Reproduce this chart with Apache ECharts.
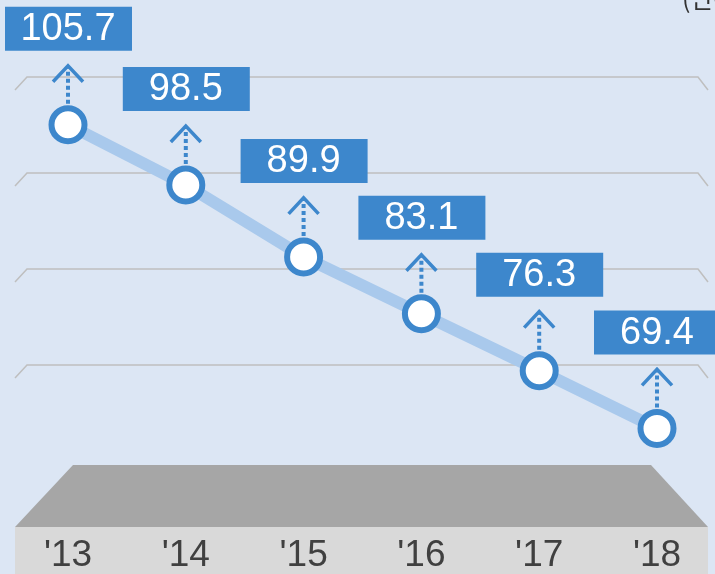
<!DOCTYPE html>
<html>
<head>
<meta charset="utf-8">
<script src="https://cdn.jsdelivr.net/npm/echarts@6/dist/echarts.min.js"></script>
<style>
html,body{margin:0;padding:0;background:#dce6f4;}
#chart{width:715px;height:574px;}
</style>
</head>
<body>
<div id="chart"></div>
<script>
var categories = ["'13", "'14", "'15", "'16", "'17", "'18"];
var values = [105.7, 98.5, 89.9, 83.1, 76.3, 69.4];
var unitText = "(단위: 조원)";

var BLUE = '#3d87cc';
var chart = echarts.init(document.getElementById('chart'));

var gridYs = [77, 173, 269, 365];
var graphics = [];
gridYs.forEach(function (y) {
  graphics.push({
    type: 'polyline', z: 0,
    shape: { points: [[15, y + 13], [27, y], [698, y], [708, y + 13]] },
    style: { stroke: '#bfbfbf', lineWidth: 1.5, fill: null }
  });
});
graphics.push({
  type: 'polygon', z: 0,
  shape: { points: [[73, 465], [651, 465], [708, 527], [15, 527]] },
  style: { fill: '#a6a6a6' }
});
graphics.push({
  type: 'rect', z: 0,
  shape: { x: 15, y: 527, width: 693, height: 60 },
  style: { fill: '#d9d9d9' }
});
graphics.push({
  type: 'text', z: 0, left: 682, top: -14,
  style: { text: unitText, fontSize: 25, fill: '#333', fontFamily: 'Noto Sans CJK KR' }
});

var customData = values.map(function (v, i) { return [i, v]; });

chart.setOption({
  backgroundColor: '#dce6f4',
  animation: false,
  textStyle: { fontFamily: 'Liberation Sans' },
  graphic: graphics,
  grid: { left: 68, right: 58, top: 47, height: 462 },
  xAxis: {
    type: 'category', data: categories, boundaryGap: false, z: 5,
    axisLine: { show: false }, axisTick: { show: false }, splitLine: { show: false },
    axisLabel: { margin: 30, fontSize: 37, color: '#404040', lineHeight: 37, verticalAlign: 'top', fontFamily: 'Liberation Sans' }
  },
  yAxis: { type: 'value', min: 60, max: 115, show: false, splitLine: { show: false } },
  series: [
    {
      type: 'line', data: values, z: 3,
      lineStyle: { width: 12, color: '#a9c9ec' },
      symbol: 'circle', symbolSize: 33,
      itemStyle: { color: '#ffffff', borderColor: BLUE, borderWidth: 6 },
      label: { show: false }
    },
    {
      type: 'custom', data: customData, z: 4, clip: false,
      renderItem: function (params, api) {
        var p = api.coord([api.value(0), api.value(1)]);
        var x = p[0], y = p[1];
        return {
          type: 'group',
          children: [
            { type: 'line', shape: { x1: x, y1: y - 21, x2: x, y2: y - 58 },
              style: { stroke: BLUE, lineWidth: 4, lineDash: [4, 3] } },
            { type: 'polyline', shape: { points: [[x - 15, y - 43], [x, y - 59], [x + 15, y - 43]] },
              style: { stroke: BLUE, lineWidth: 3.5, fill: null } },
            { type: 'rect', shape: { x: x - 63, y: y - 118, width: 127, height: 44 },
              style: { fill: BLUE } },
            { type: 'text', x: x, y: y - 95,
              style: { text: api.value(1).toFixed(1), fill: '#ffffff', fontSize: 38,
                       fontFamily: 'Liberation Sans', align: 'center', verticalAlign: 'middle' } }
          ]
        };
      }
    }
  ]
});
</script>
</body>
</html>
